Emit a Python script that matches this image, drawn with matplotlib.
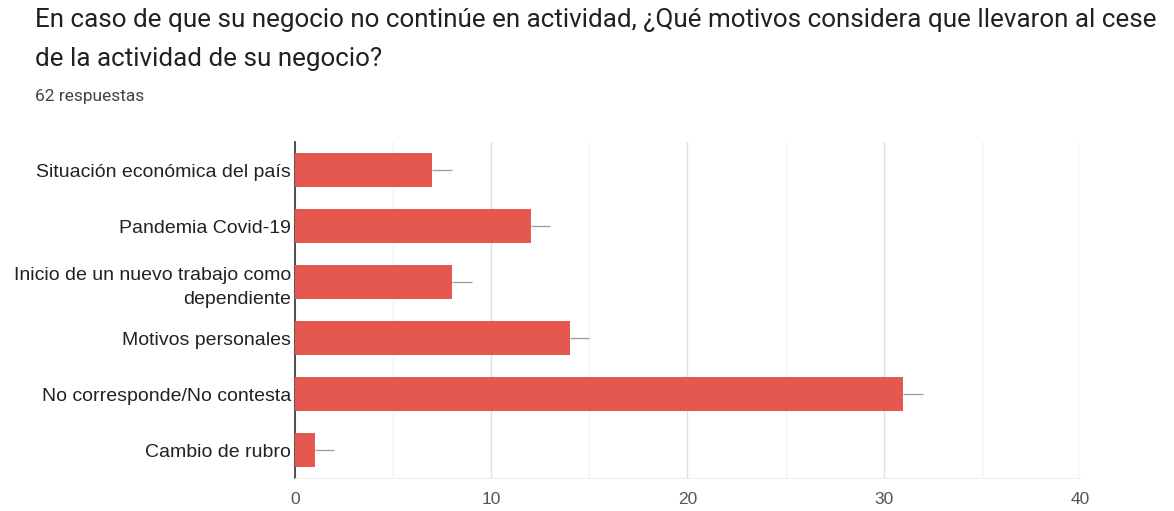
import matplotlib
matplotlib.use("Agg")
import matplotlib.pyplot as plt
from matplotlib.ticker import MultipleLocator

categories = [
    "Situación económica del país",
    "Pandemia Covid-19",
    "Inicio de un nuevo trabajo como\ndependiente",
    "Motivos personales",
    "No corresponde/No contesta",
    "Cambio de rubro",
]
values = [7, 12, 8, 14, 31, 1]
xticks = [0, 10, 20, 30, 40]

title = "En caso de que su negocio no continúe en actividad, ¿Qué motivos considera que llevaron al cese\nde la actividad de su negocio?"
subtitle = "62 respuestas"

plt.rcParams['font.family'] = ['Liberation Sans', 'DejaVu Sans']

fig = plt.figure(figsize=(11.74, 5.11), dpi=100)
ax = fig.add_axes([0.2513, 0.064, 0.6686, 0.658])

y = list(range(len(categories)))
ax.barh(y, values, height=0.6, color="#e5584f", zorder=3)
ax.errorbar(values, y, xerr=[[0] * len(values), [1] * len(values)], fmt="none",
            ecolor="#a0a0a0", elinewidth=1, capsize=0, zorder=2)

ax.set_ylim(len(categories) - 0.5, -0.5)
ax.set_xlim(0, 40)
ax.set_yticks(y)
ax.set_yticklabels(categories, fontsize=14, color="#222222", linespacing=1.55)
ax.set_xticks(xticks)
ax.set_xticklabels([str(t) for t in xticks], fontsize=12.5, color="#555555")
ax.xaxis.set_minor_locator(MultipleLocator(5))
ax.tick_params(axis="both", length=0, which="both")
ax.tick_params(axis="x", pad=10)
ax.tick_params(axis="y", pad=3)

ax.grid(axis="x", which="major", color="#e0e0e0", linewidth=1, zorder=0)
ax.grid(axis="x", which="minor", color="#f2f2f2", linewidth=1, zorder=0)

for s in ["top", "right"]:
    ax.spines[s].set_visible(False)
ax.spines["bottom"].set_color("#eeeeee")
ax.spines["left"].set_color("#333333")
ax.spines["left"].set_linewidth(1.2)

fig.text(0.03, 0.985, title, fontsize=18.7, color="#202124", va="top", ha="left",
         linespacing=1.8, family=['Roboto', 'DejaVu Sans'])
fig.text(0.03, 0.825, subtitle, fontsize=12.5, color="#444444", va="top", ha="left",
         family=['Roboto', 'DejaVu Sans'])

fig.savefig("out.png", dpi=100, facecolor="white")
